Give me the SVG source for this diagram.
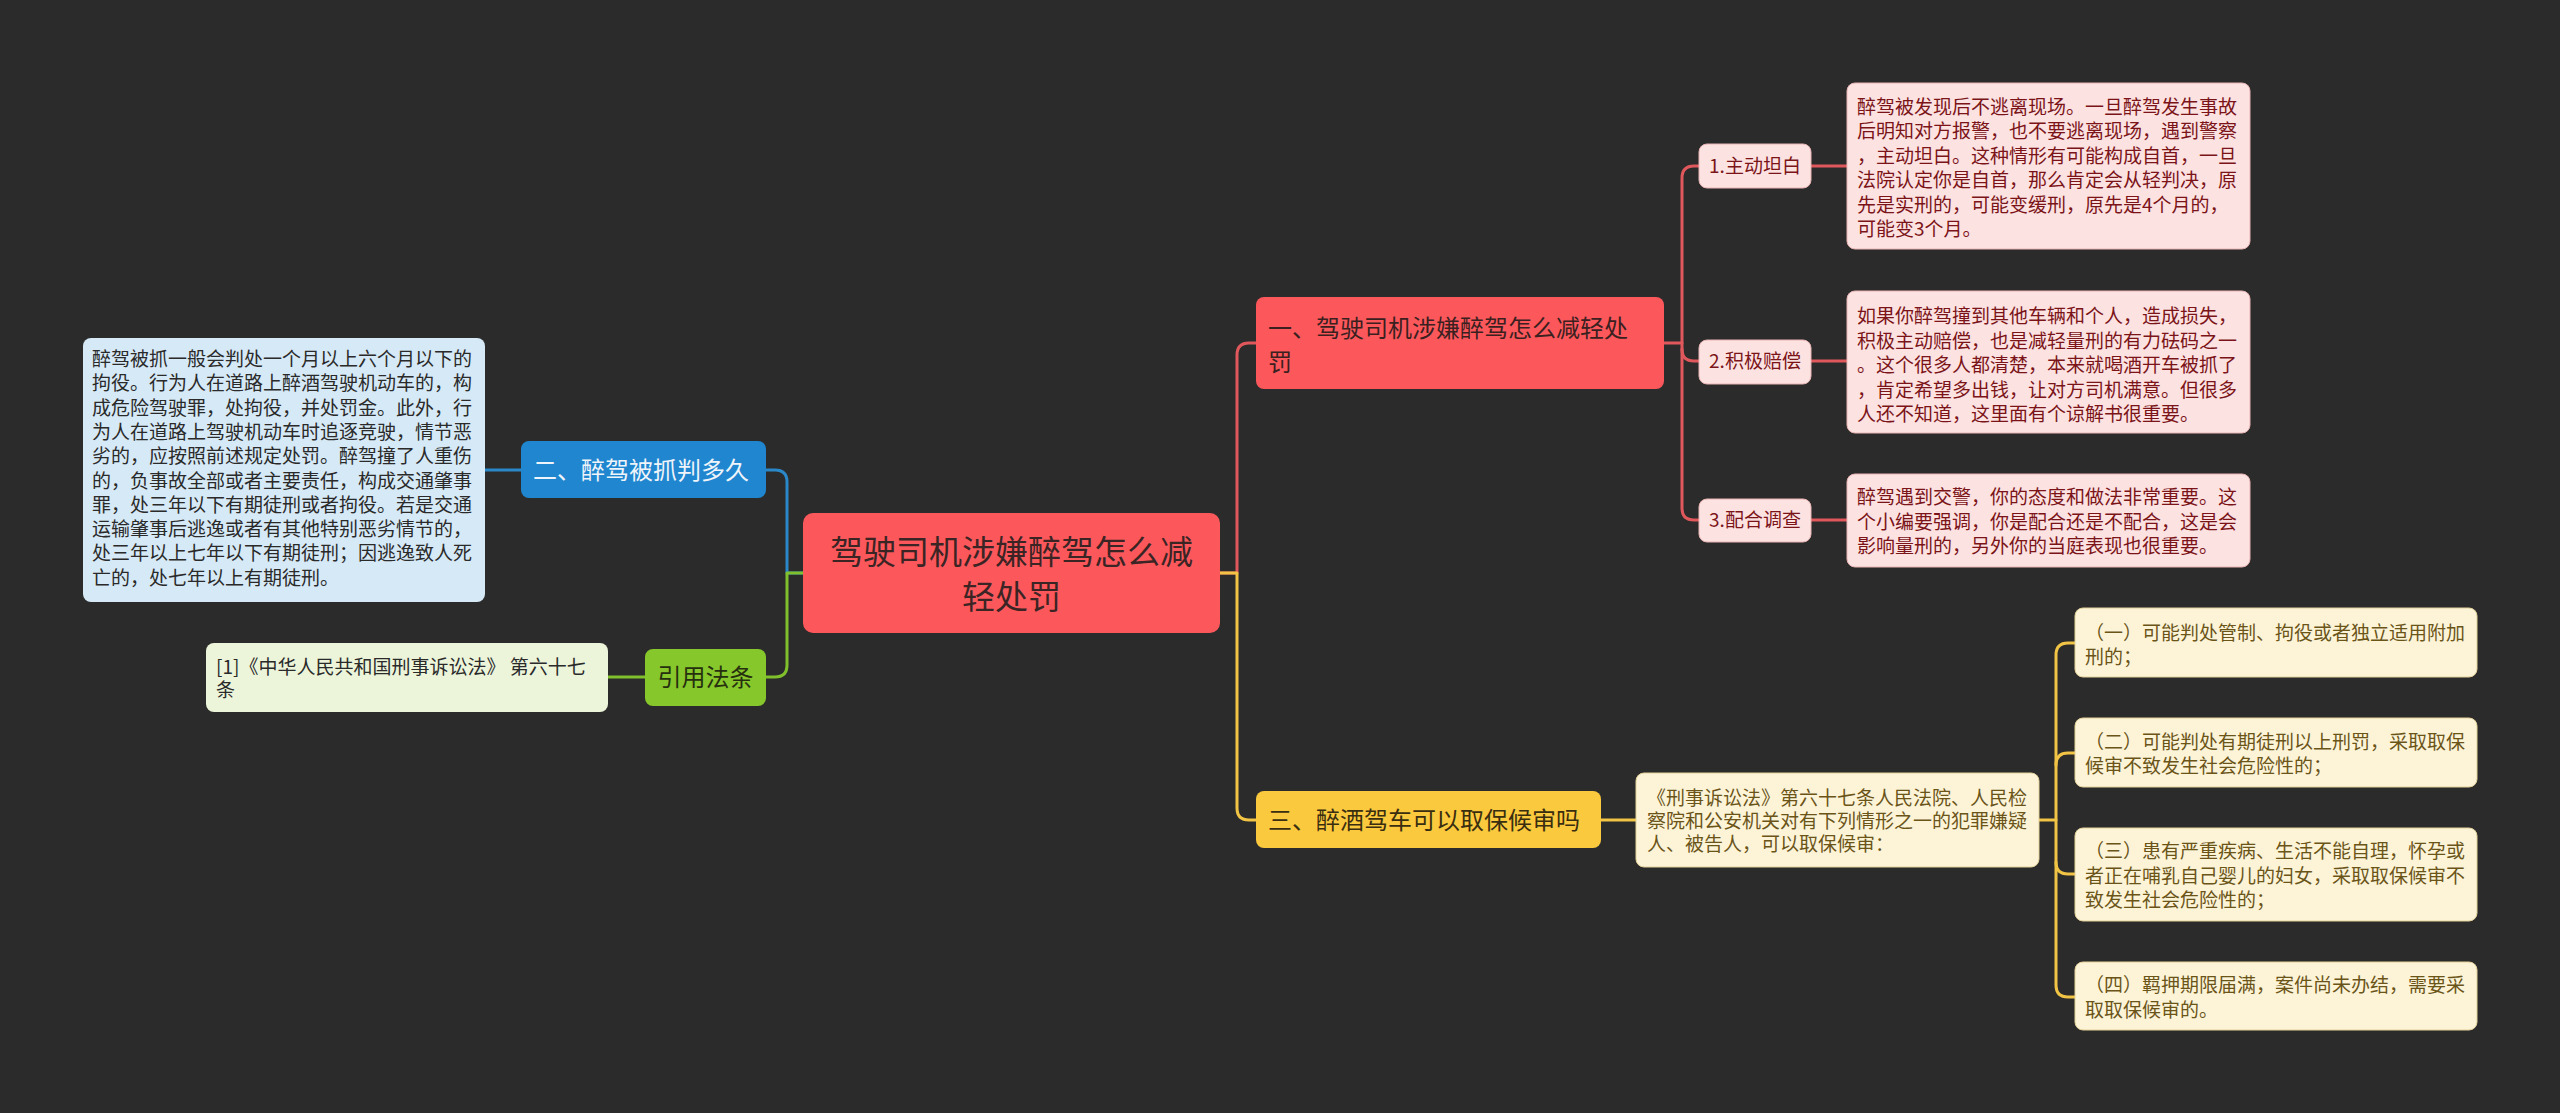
<svg xmlns="http://www.w3.org/2000/svg" width="2560" height="1113" viewBox="0 0 2560 1113">
<style>
text{font-family:"Noto Sans CJK SC","Noto Sans",sans-serif;}
.c{fill:none;stroke-width:3;stroke-linecap:round;stroke-linejoin:round}
.cr{stroke:#e0585c}.cy{stroke:#f2c445}.cb{stroke:#2a88c8}.cg{stroke:#80c02c}
.root{fill:#fc585c}
.b1{fill:#fc585c}
.b3{fill:#fbc93d}
.bb{fill:#1f86cf}
.bg{fill:#86c72b}
.pk{fill:#fde2e2;stroke:#e9b4b4;stroke-width:1}
.cr2{fill:#fdf4d8;stroke:#e4d29a;stroke-width:1}
.lb{fill:#d6e9f6}
.lg{fill:#ecf5da}
.t19{font-size:19px}
.t24{font-size:24px}
.tr{fill:#7a1418}
.ty{fill:#6b5418}
.td{fill:#2a2a2a}
</style>
<rect width="2560" height="1113" fill="#2b2b2b"/>
<g id="connectors">
<path class="c cr" d="M1220 573 H1237 V355 Q1237 343 1249 343 H1256"/>
<path class="c cy" d="M1220 573 H1237 V808 Q1237 820 1249 820 H1256"/>
<path class="c cb" d="M803 573 H787 V482 Q787 470 775 470 H766"/>
<path class="c cg" d="M803 573 H787 V665 Q787 677 775 677 H766"/>
<path class="c cr" d="M1664 343 H1682 V178 Q1682 166 1694 166 H1699"/>
<path class="c cr" d="M1682 343 V508 Q1682 520 1694 520 H1699"/>
<path class="c cr" d="M1682 349 Q1682 361 1694 361 H1699"/>
<path class="c cr" d="M1811 166 H1847"/>
<path class="c cr" d="M1811 361 H1847"/>
<path class="c cr" d="M1811 520 H1847"/>
<path class="c cy" d="M1601 820 H1636"/>
<path class="c cy" d="M2039 820 H2056 V655 Q2056 643 2068 643 H2075"/>
<path class="c cy" d="M2056 820 V985 Q2056 997 2068 997 H2075"/>
<path class="c cy" d="M2056 765 Q2056 753 2068 753 H2075"/>
<path class="c cy" d="M2056 862 Q2056 874 2068 874 H2075"/>
<path class="c cb" d="M521 470 H485"/>
<path class="c cg" d="M645 677 H608"/>
</g>
<g id="root">
<rect class="root" x="803" y="513" width="417" height="120" rx="10"/>
<text x="1011.5" y="564" font-size="33" text-anchor="middle" fill="#3b2424">驾驶司机涉嫌醉驾怎么减</text>
<text x="1011.5" y="609" font-size="33" text-anchor="middle" fill="#3b2424">轻处罚</text>
</g>
<g id="branch1">
<rect class="b1" x="1256" y="297" width="408" height="92" rx="8"/>
<text class="t24" x="1268" y="337" fill="#3b2020">一、驾驶司机涉嫌醉驾怎么减轻处</text>
<text class="t24" x="1268" y="371" fill="#3b2020">罚</text>
</g>
<g id="b1-1">
<rect class="pk" x="1699" y="144" width="112" height="44" rx="8"/>
<text class="t19 tr" x="1755" y="173" text-anchor="middle">1.主动坦白</text>
</g>
<g id="b1-1-t">
<rect class="pk" x="1847" y="83" width="403" height="166" rx="8"/>
<text class="t19 tr">
<tspan x="1857" y="114">醉驾被发现后不逃离现场。一旦醉驾发生事故</tspan>
<tspan x="1857" y="138.4">后明知对方报警，也不要逃离现场，遇到警察</tspan>
<tspan x="1857" y="162.8">，主动坦白。这种情形有可能构成自首，一旦</tspan>
<tspan x="1857" y="187.2">法院认定你是自首，那么肯定会从轻判决，原</tspan>
<tspan x="1857" y="211.6">先是实刑的，可能变缓刑，原先是4个月的，</tspan>
<tspan x="1857" y="236">可能变3个月。</tspan>
</text>
</g>
<g id="b1-2">
<rect class="pk" x="1699" y="340" width="112" height="44" rx="8"/>
<text class="t19 tr" x="1755" y="368" text-anchor="middle">2.积极赔偿</text>
</g>
<g id="b1-2-t">
<rect class="pk" x="1847" y="291" width="403" height="142" rx="8"/>
<text class="t19 tr">
<tspan x="1857" y="323">如果你醉驾撞到其他车辆和个人，造成损失，</tspan>
<tspan x="1857" y="347.5">积极主动赔偿，也是减轻量刑的有力砝码之一</tspan>
<tspan x="1857" y="372">。这个很多人都清楚，本来就喝酒开车被抓了</tspan>
<tspan x="1857" y="396.5">，肯定希望多出钱，让对方司机满意。但很多</tspan>
<tspan x="1857" y="421">人还不知道，这里面有个谅解书很重要。</tspan>
</text>
</g>
<g id="b1-3">
<rect class="pk" x="1699" y="499" width="112" height="43" rx="8"/>
<text class="t19 tr" x="1755" y="527" text-anchor="middle">3.配合调查</text>
</g>
<g id="b1-3-t">
<rect class="pk" x="1847" y="474" width="403" height="93" rx="8"/>
<text class="t19 tr">
<tspan x="1857" y="504">醉驾遇到交警，你的态度和做法非常重要。这</tspan>
<tspan x="1857" y="528.5">个小编要强调，你是配合还是不配合，这是会</tspan>
<tspan x="1857" y="553">影响量刑的，另外你的当庭表现也很重要。</tspan>
</text>
</g>
<g id="branch3">
<rect class="b3" x="1256" y="791" width="345" height="57" rx="8"/>
<text class="t24" x="1268" y="829" fill="#3a2e10">三、醉酒驾车可以取保候审吗</text>
</g>
<g id="b3-1">
<rect class="cr2" x="1636" y="773" width="403" height="94" rx="8"/>
<text class="t19 ty">
<tspan x="1647" y="805">《刑事诉讼法》第六十七条人民法院、人民检</tspan>
<tspan x="1647" y="828">察院和公安机关对有下列情形之一的犯罪嫌疑</tspan>
<tspan x="1647" y="851">人、被告人，可以取保候审：</tspan>
</text>
</g>
<g id="b3-1-1">
<rect class="cr2" x="2075" y="608" width="402" height="69" rx="8"/>
<text class="t19 ty">
<tspan x="2085" y="640">（一）可能判处管制、拘役或者独立适用附加</tspan>
<tspan x="2085" y="664">刑的；</tspan>
</text>
</g>
<g id="b3-1-2">
<rect class="cr2" x="2075" y="718" width="402" height="69" rx="8"/>
<text class="t19 ty">
<tspan x="2085" y="749">（二）可能判处有期徒刑以上刑罚，采取取保</tspan>
<tspan x="2085" y="773">候审不致发生社会危险性的；</tspan>
</text>
</g>
<g id="b3-1-3">
<rect class="cr2" x="2075" y="828" width="402" height="93" rx="8"/>
<text class="t19 ty">
<tspan x="2085" y="858">（三）患有严重疾病、生活不能自理，怀孕或</tspan>
<tspan x="2085" y="882.5">者正在哺乳自己婴儿的妇女，采取取保候审不</tspan>
<tspan x="2085" y="907">致发生社会危险性的；</tspan>
</text>
</g>
<g id="b3-1-4">
<rect class="cr2" x="2075" y="962" width="402" height="68" rx="8"/>
<text class="t19 ty">
<tspan x="2085" y="992">（四）羁押期限届满，案件尚未办结，需要采</tspan>
<tspan x="2085" y="1017">取取保候审的。</tspan>
</text>
</g>
<g id="branch2">
<rect class="bb" x="521" y="441" width="245" height="57" rx="8"/>
<text class="t24" x="533" y="479" fill="#eef4fa">二、醉驾被抓判多久</text>
</g>
<g id="b2-t">
<rect class="lb" x="83" y="338" width="402" height="264" rx="8"/>
<text class="t19 td">
<tspan x="92" y="366">醉驾被抓一般会判处一个月以上六个月以下的</tspan>
<tspan x="92" y="390.3">拘役。行为人在道路上醉酒驾驶机动车的，构</tspan>
<tspan x="92" y="414.6">成危险驾驶罪，处拘役，并处罚金。此外，行</tspan>
<tspan x="92" y="438.9">为人在道路上驾驶机动车时追逐竞驶，情节恶</tspan>
<tspan x="92" y="463.2">劣的，应按照前述规定处罚。醉驾撞了人重伤</tspan>
<tspan x="92" y="487.5">的，负事故全部或者主要责任，构成交通肇事</tspan>
<tspan x="92" y="511.8">罪，处三年以下有期徒刑或者拘役。若是交通</tspan>
<tspan x="92" y="536.1">运输肇事后逃逸或者有其他特别恶劣情节的，</tspan>
<tspan x="92" y="560.4">处三年以上七年以下有期徒刑；因逃逸致人死</tspan>
<tspan x="92" y="584.7">亡的，处七年以上有期徒刑。</tspan>
</text>
</g>
<g id="branch4">
<rect class="bg" x="645" y="649" width="121" height="57" rx="8"/>
<text class="t24" x="705.5" y="686" text-anchor="middle" fill="#26300f">引用法条</text>
</g>
<g id="b4-t">
<rect class="lg" x="206" y="643" width="402" height="69" rx="8"/>
<text class="t19 td">
<tspan x="216" y="674">[1]《中华人民共和国刑事诉讼法》 第六十七</tspan>
<tspan x="216" y="697">条</tspan>
</text>
</g>
</svg>
